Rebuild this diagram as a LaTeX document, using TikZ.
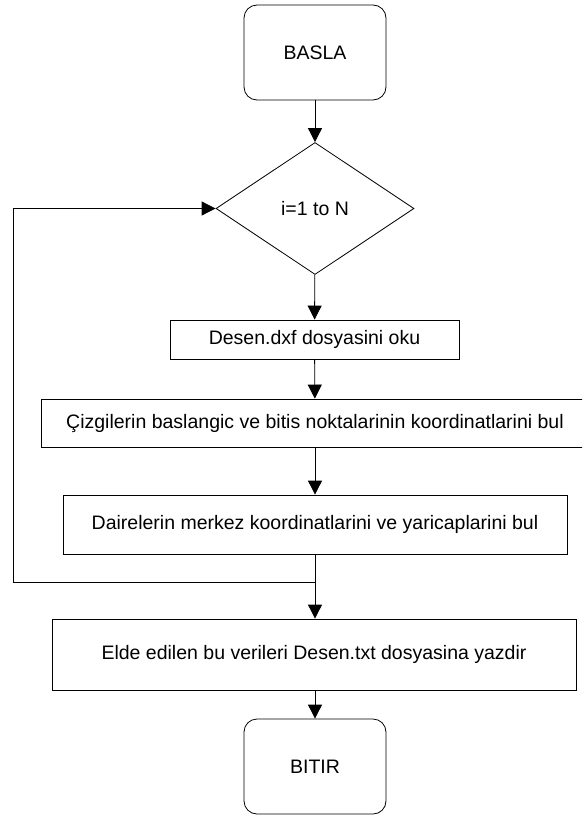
\documentclass[tikz,border=0pt]{standalone}
\usepackage{fontspec}
\setmainfont{Liberation Sans}
\usetikzlibrary{shapes.geometric,arrows.meta}

\tikzset{
  base/.style={draw=black, line width=0.8pt, inner sep=0pt,
    font=\fontsize{19.5}{23}\selectfont, align=center},
  terminal/.style={base, rounded corners=13pt, minimum width=142pt, minimum height=95pt},
  process/.style={base, rectangle},
  decision/.style={base, diamond, minimum width=198pt, minimum height=132pt},
  flow/.style={line width=0.8pt, -{Triangle[length=14pt,width=14pt]}},
  link/.style={line width=0.8pt}
}

\begin{document}
\begin{tikzpicture}[x=1pt, y=-1pt]
  \useasboundingbox (0,0) rectangle (582,816);
  \clip (0,0) rectangle (582,816);

  % start, loop header and steps
  \node[terminal] (start) at (315,52.5) {BASLA};
  \node[decision] (loop) at (315,208.5) {i=1 to N};
  \node[process, minimum width=289pt, minimum height=39pt] (read) at (314.5,339.5)
    {Desen.dxf dosyasini oku};
  \node[process, minimum width=548pt, minimum height=48pt] (lines) at (315,423)
    {Çizgilerin baslangic ve bitis noktalarinin koordinatlarini bul};
  \node[process, minimum width=504pt, minimum height=59pt] (circles) at (315,524.5)
    {Dairelerin merkez koordinatlarini ve yaricaplarini bul};
  \node[process, minimum width=524pt, minimum height=71pt] (write) at (314,654.5)
    {Elde edilen bu verileri Desen.txt dosyasina yazdir};
  \node[terminal] (stop) at (315,766.5) {BITIR};

  % loop-back junction points
  \coordinate (j) at (315,582);
  \coordinate (jl) at (13,582);
  \coordinate (jt) at (13,208.5);

  % connectors
  \draw[flow] (start) -- (loop);
  \draw[flow] (loop) -- (read);
  \draw[flow] (read) -- (lines);
  \draw[flow] (lines) -- (circles);
  \draw[flow] (circles.south) -- (write.north -| circles.south);
  \draw[link] (j) -- (jl) -- (jt);
  \draw[flow] (jt) -- (loop.west);
  \draw[flow] (write.south -| stop.north) -- (stop);
\end{tikzpicture}
\end{document}
